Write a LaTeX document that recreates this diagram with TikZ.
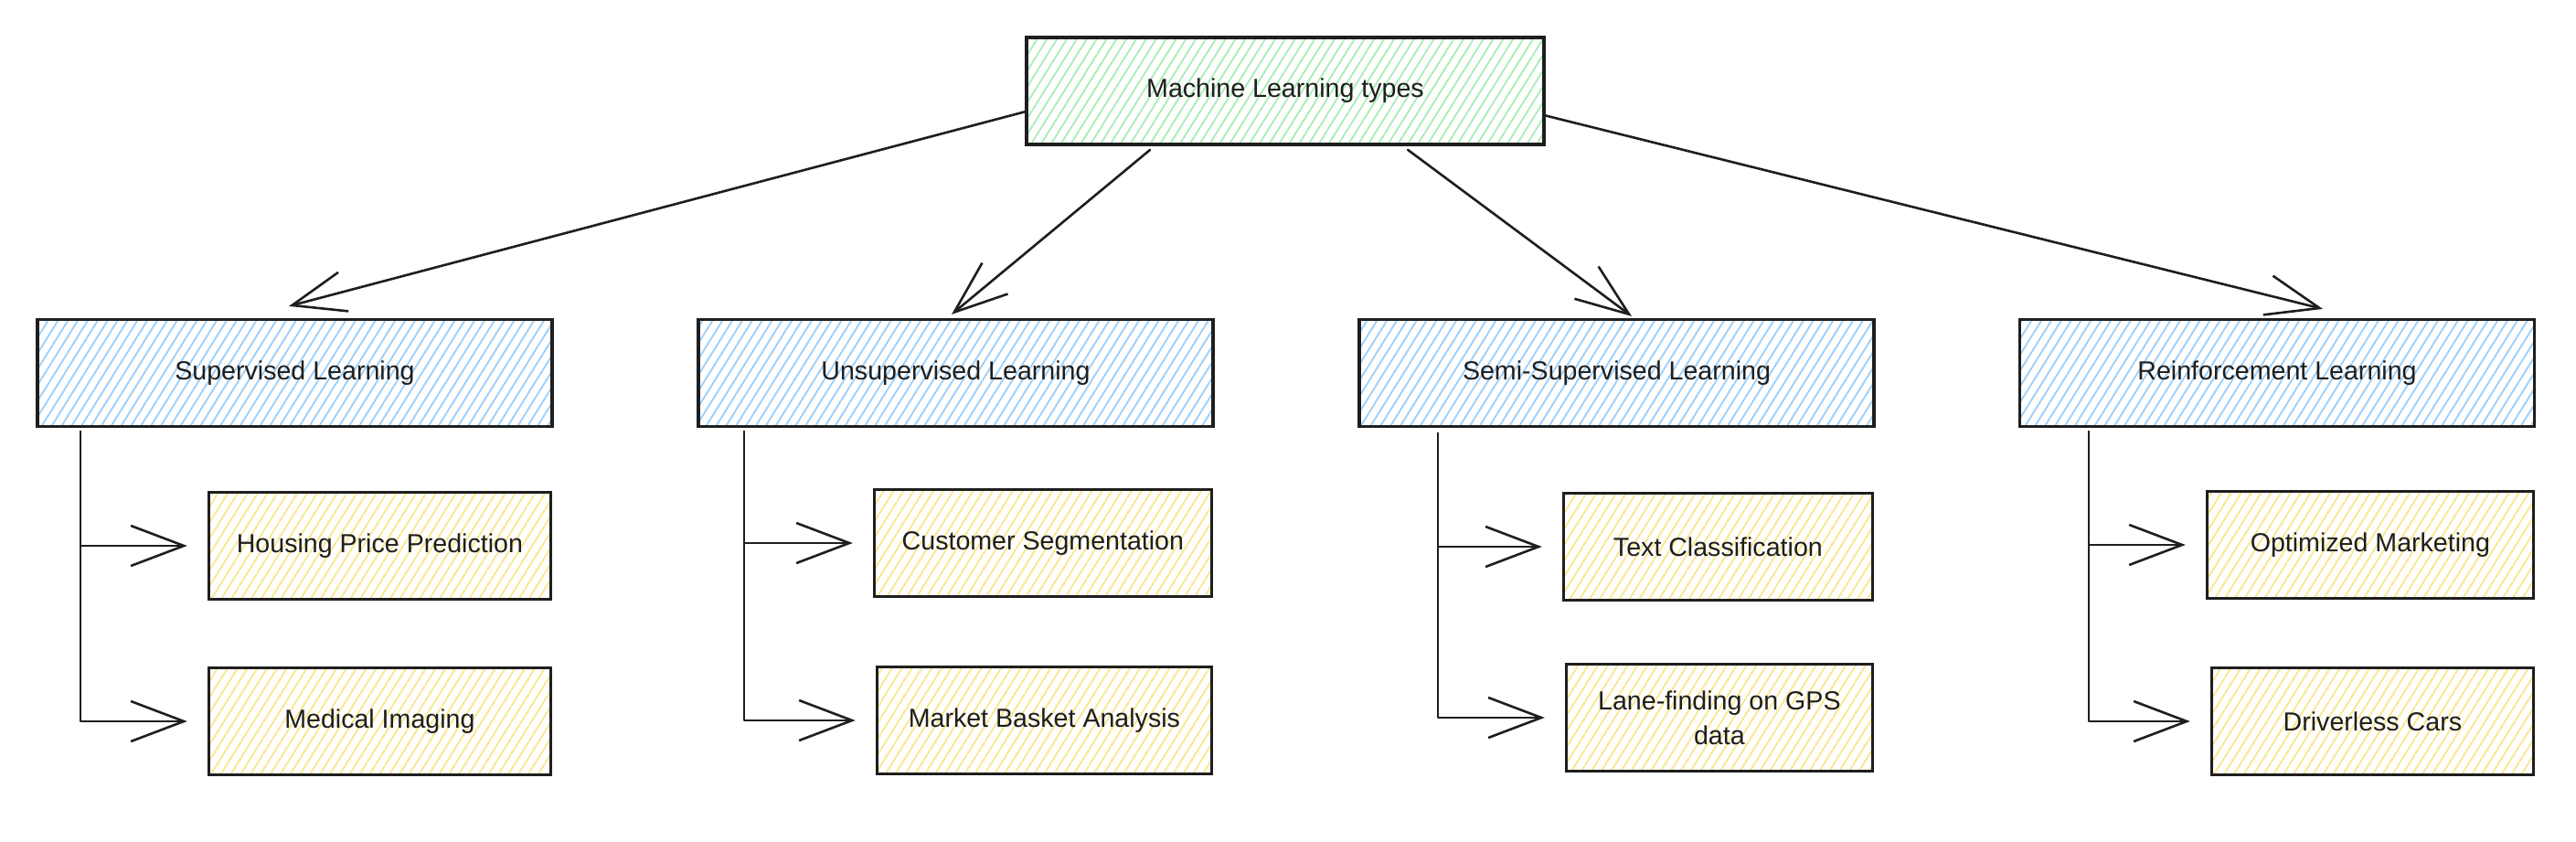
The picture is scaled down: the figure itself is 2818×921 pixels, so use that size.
\documentclass[tikz,border=0pt]{standalone}
\usepackage{fontspec}
\setmainfont{Liberation Sans}
\usetikzlibrary{arrows.meta,patterns.meta,calc}
\definecolor{ink}{HTML}{1E1E1E}
\definecolor{hgreen}{HTML}{A8EEB2}
\definecolor{hblue}{HTML}{9ACFFB}
\definecolor{hyellow}{HTML}{FCE68A}
\begin{document}
\begin{tikzpicture}[x=0.5pt,y=-0.5pt,
  hatch/.style={pattern={Lines[angle=58,distance=4.6pt,line width=0.9pt]}},
  box/.style={draw=ink, line width=1.6pt, rectangle, minimum height=58.5pt, inner sep=0pt,
    text=ink, font=\fontsize{14.3}{19}\selectfont, align=center},
  topbox/.style={box, hatch, pattern color=hgreen, minimum width=283pt},
  midbox/.style={box, hatch, pattern color=hblue, minimum width=281.5pt},
  leafbox/.style={box, hatch, pattern color=hyellow, anchor=east},
  conn/.style={draw=ink, line width=1.3pt, line cap=round, line join=round,
    -{Straight Barb[length=29pt,width=22pt]}},
  elbow/.style={conn, shorten >=11pt}
]
\fill[white] (0,0) rectangle (2818,921);
\useasboundingbox (0,0) rectangle (2818,921);

\node[topbox] (ml) at (1406,99.5) {Machine Learning types};

\node[midbox] (sup)  at (322.5,408)  {Supervised Learning};
\node[midbox] (uns)  at (1045.5,408) {Unsupervised Learning};
\node[midbox] (semi) at (1768.5,408) {Semi-Supervised Learning};
\node[midbox] (rein) at (2491,408)   {Reinforcement Learning};

\node[leafbox, minimum width=187pt]   (house) at (604,597)  {Housing Price Prediction};
\node[leafbox, minimum width=187pt]   (med)   at (604,789)  {Medical Imaging};
\node[leafbox, minimum width=184.5pt] (cust)  at (1327,594) {Customer Segmentation};
\node[leafbox, minimum width=183pt]   (mba)   at (1327,788) {Market Basket Analysis};
\node[leafbox, minimum width=169pt]   (text)  at (2050,598) {Text Classification};
\node[leafbox, minimum width=167.5pt] (lane)  at (2050,785) {Lane-finding on GPS\\data};
\node[leafbox, minimum width=178.5pt] (opt)   at (2773,596) {Optimized Marketing};
\node[leafbox, minimum width=176pt]   (car)   at (2773,789) {Driverless Cars};

% top-level connectors
\draw[conn] ($(ml.west)+(0,22.5)$) -- ($(sup.north)+(-6.5,-13)$);
\draw[conn] ($(ml.south west)+(136,5)$) -- ($(uns.north)+(-4.5,-4)$);
\draw[conn] ($(ml.south west)+(418,5)$) -- ($(semi.north)+(16.5,-2)$);
\draw[conn] ($(ml.east)+(1,27)$) -- ($(rein.north)+(50,-10)$);

% branch connectors
\coordinate (supv)  at (88,472);
\coordinate (unsv)  at (814,472);
\coordinate (semiv) at (1573,474);
\coordinate (reinv) at (2285,472);

\draw[elbow] (supv) |- (house);
\draw[elbow] (supv) |- (med);
\draw[elbow] (unsv) |- (cust);
\draw[elbow] (unsv) |- (mba);
\draw[elbow] (semiv) |- (text);
\draw[elbow] (semiv) |- (lane);
\draw[elbow] (reinv) |- (opt);
\draw[elbow] (reinv) |- (car);
\end{tikzpicture}
\end{document}
